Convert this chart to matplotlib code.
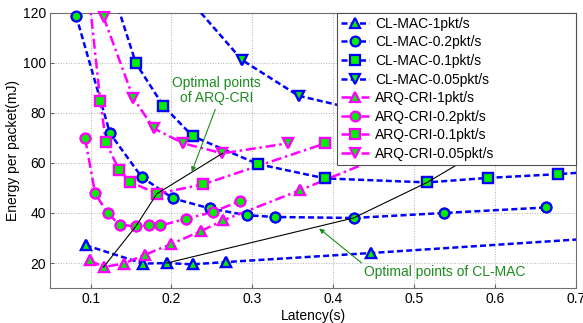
import numpy as np
import matplotlib
matplotlib.use('Agg')
import matplotlib.pyplot as plt

plt.rcParams['font.family'] = ['Liberation Sans', 'DejaVu Sans']

# CL-MAC curves (latency s, energy mJ); points past the axes limits are where the lines leave the plot
cl1_x = [0.094, 0.165, 0.194, 0.226, 0.267, 0.446, 0.80]
cl1_y = [27.1, 19.8, 20.0, 19.5, 20.4, 24.0, 31.5]
cl02_x = [0.082, 0.124, 0.163, 0.202, 0.2475, 0.293, 0.328, 0.425, 0.537, 0.663]
cl02_y = [118.8, 71.8, 54.4, 45.8, 41.8, 39.1, 38.4, 38.0, 40.0, 42.2]
cl01_x = [0.125, 0.156, 0.190, 0.226, 0.307, 0.390, 0.516, 0.591, 0.678, 0.80]
cl01_y = [131, 99.8, 82.7, 70.7, 59.5, 53.8, 52.2, 54.0, 55.5, 58.3]
cl005_x = [0.22, 0.287, 0.357, 0.46, 0.63, 0.80]
cl005_y = [126, 101.1, 86.8, 79, 74, 76]

# ARQ-CRI curves
arq1_x = [0.0994, 0.116, 0.141, 0.167, 0.199, 0.236, 0.264, 0.359, 0.46]
arq1_y = [21.1, 18.4, 19.8, 23.3, 27.5, 32.7, 37.1, 49.1, 62.5]
arq02_x = [0.0932, 0.1056, 0.121, 0.136, 0.156, 0.172, 0.186, 0.2175, 0.251, 0.285]
arq02_y = [69.8, 47.8, 40.0, 35.2, 34.7, 35.0, 35.0, 37.6, 40.4, 44.8]
arq01_x = [0.098, 0.112, 0.119, 0.135, 0.149, 0.182, 0.239, 0.39]
arq01_y = [127, 84.8, 68.2, 57.3, 52.4, 47.7, 51.4, 67.8]
arq005_x = [0.116, 0.153, 0.178, 0.2146, 0.263, 0.344]
arq005_y = [118.2, 85.8, 73.8, 67.8, 63.8, 67.8]

# optimal points
arq_opt_x = [0.116, 0.156, 0.182, 0.263]
arq_opt_y = [18.4, 34.7, 47.7, 63.8]
cl_opt_x = [0.194, 0.425, 0.516, 0.63]
cl_opt_y = [20.0, 38.0, 52.2, 74]

xlim = (0.05, 0.7)
ylim = (10, 120)

fig = plt.figure(figsize=(5.83, 3.23), dpi=100)
ax = fig.add_axes([0.086, 0.108, 0.902, 0.853])

series = [
    (cl1_x, cl1_y, 'blue', '^', '--', 'CL-MAC-1pkt/s'),
    (cl02_x, cl02_y, 'blue', 'o', '--', 'CL-MAC-0.2pkt/s'),
    (cl01_x, cl01_y, 'blue', 's', '--', 'CL-MAC-0.1pkt/s'),
    (cl005_x, cl005_y, 'blue', 'v', '--', 'CL-MAC-0.05pkt/s'),
    (arq1_x, arq1_y, 'magenta', '^', '-.', 'ARQ-CRI-1pkt/s'),
    (arq02_x, arq02_y, 'magenta', 'o', '-.', 'ARQ-CRI-0.2pkt/s'),
    (arq01_x, arq01_y, 'magenta', 's', '-.', 'ARQ-CRI-0.1pkt/s'),
    (arq005_x, arq005_y, 'magenta', 'v', '-.', 'ARQ-CRI-0.05pkt/s'),
]

for x, y, c, m, ls, lab in series:
    line, = ax.plot(x, y, color=c, linestyle=ls, lw=1.8, marker=m, ms=7,
                    mfc='#00ee00', mec=c, mew=1.6, label=lab, zorder=3)
    if ls == '--':
        line.set_dashes((2.4, 1.3))
    else:
        line.set_dashes((4, 1.5, 1, 1.5))
    # markers inside the axes range drawn unclipped (like MATLAB)
    xa, ya = np.array(x), np.array(y)
    keep = (xa >= xlim[0]) & (xa <= xlim[1]) & (ya >= ylim[0]) & (ya <= ylim[1])
    ax.plot(xa[keep], ya[keep], linestyle='none', marker=m, ms=7,
            mfc='#00ee00', mec=c, mew=1.6, clip_on=False, zorder=4)

ax.plot(arq_opt_x, arq_opt_y, color='black', lw=0.8, zorder=5)
ax.plot(cl_opt_x, cl_opt_y, color='black', lw=0.8, zorder=5)

green = '#1e8c1e'
ax.annotate('Optimal points\nof ARQ-CRI', xy=(0.225, 56.4), xytext=(0.256, 88.8),
            ha='center', va='center', color=green, fontsize=10, linespacing=1.1,
            arrowprops=dict(arrowstyle='-|>', color=green, lw=0.8,
                            mutation_scale=7, relpos=(0.5, 0), shrinkA=1, shrinkB=0),
            zorder=6)
ax.annotate('Optimal points of CL-MAC', xy=(0.3825, 33.8), xytext=(0.538, 16.4),
            ha='center', va='center', color=green, fontsize=10,
            arrowprops=dict(arrowstyle='-|>', color=green, lw=0.8,
                            mutation_scale=7, relpos=(0.0, 1.0), shrinkA=0, shrinkB=0),
            zorder=6)

ax.set_xlim(*xlim)
ax.set_ylim(*ylim)
ax.set_xticks([0.1, 0.2, 0.3, 0.4, 0.5, 0.6, 0.7])
ax.set_xticklabels(['0.1', '0.2', '0.3', '0.4', '0.5', '0.6', '0.7'])
ax.set_yticks([20, 40, 60, 80, 100, 120])
ax.grid(True, linestyle=':', color='#b0b0b0', lw=0.7)
ax.tick_params(direction='in', length=3, labelsize=10, color='#606060', pad=3)
for s in ax.spines.values():
    s.set_color('#707070')
ax.set_xlabel('Latency(s)', fontsize=10, labelpad=2)
ax.set_ylabel('Energy per packet(mJ)', fontsize=10, labelpad=2)

leg = ax.legend(loc='upper left', bbox_to_anchor=(0.546, 0.0, 0.454, 1.0),
                mode='expand', fontsize=10, frameon=True, fancybox=False,
                framealpha=1, edgecolor='#505050', borderaxespad=0,
                handlelength=2.0, handletextpad=0.4, labelspacing=0.33,
                borderpad=0.3)
leg.set_zorder(10)
leg.get_frame().set_linewidth(0.8)

fig.savefig('out.png', dpi=100)
